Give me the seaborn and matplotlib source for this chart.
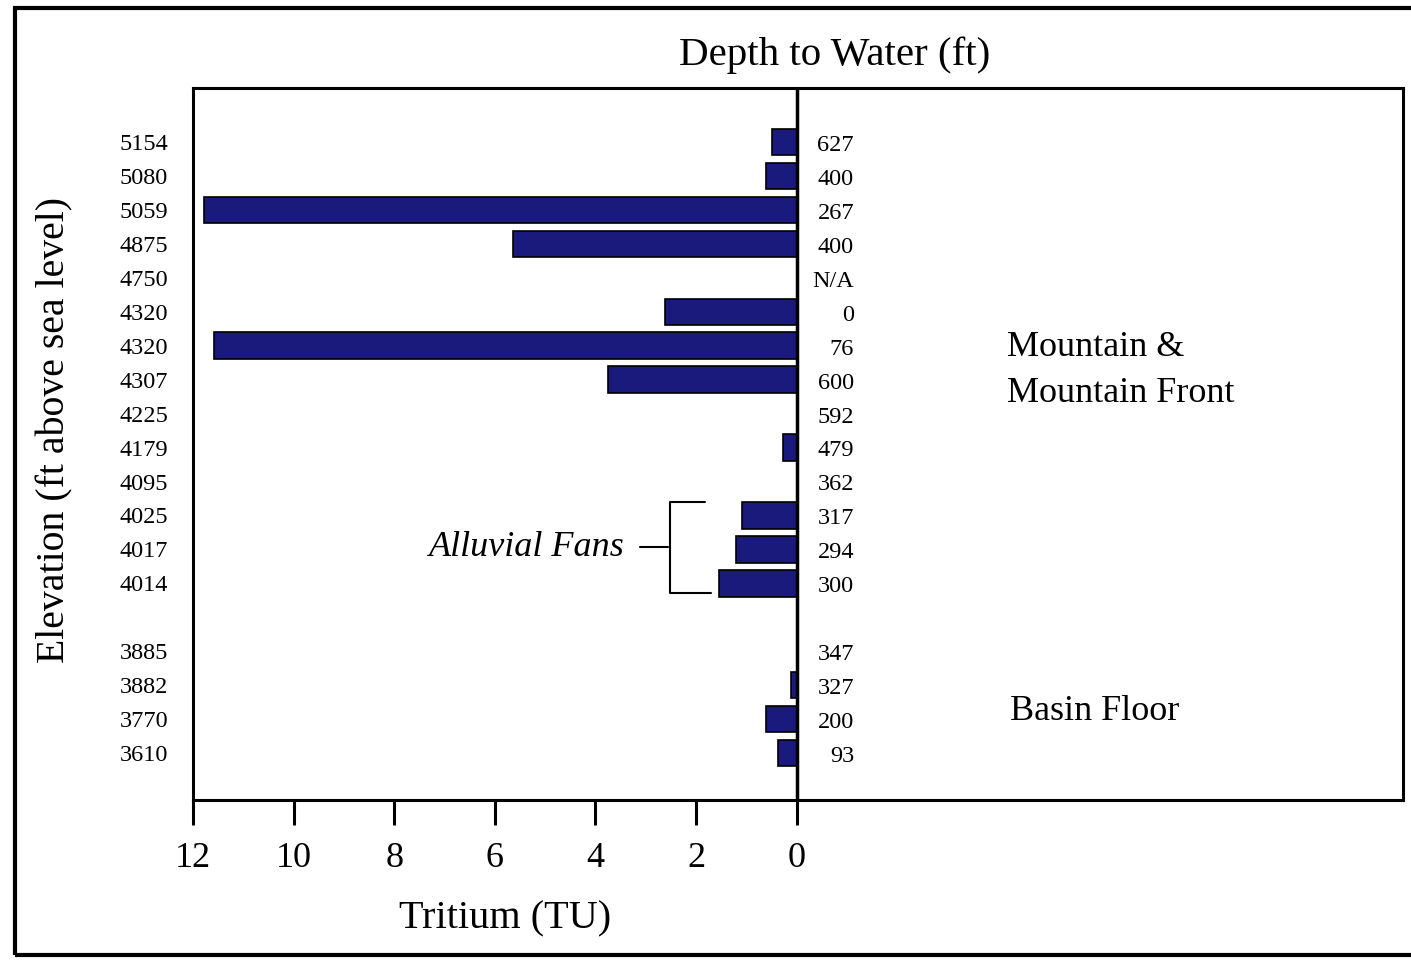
import matplotlib
matplotlib.use("Agg")
import matplotlib.pyplot as plt
import numpy as np
import pandas as pd
import seaborn as sns
from matplotlib.patches import Rectangle

# wells, top to bottom
elevation = ["5154", "5080", "5059", "4875", "4750", "4320", "4320", "4307", "4225",
             "4179", "4095", "4025", "4017", "4014", "3885", "3882", "3770", "3610"]
depth_to_water = ["627", "400", "267", "400", "N/A", "0", "76", "600", "592",
                  "479", "362", "317", "294", "300", "347", "327", "200", "93"]
tritium = [0.5, 0.62, 11.78, 5.63, 0.0, 2.62, 11.59, 3.76, 0.0,
           0.28, 0.0, 1.09, 1.21, 1.55, 0.0, 0.11, 0.62, 0.38]
x_ticks = [12, 10, 8, 6, 4, 2, 0]

# blank row between mountain-front and basin-floor groups
gap_after = 13
slot = [i if i <= gap_after else i + 1 for i in range(len(elevation))]

df = pd.DataFrame({"slot": slot, "tritium": tritium})

sns.set_theme(style="white")
plt.rcParams["font.family"] = ["Liberation Serif", "DejaVu Serif"]
plt.rcParams["text.color"] = "black"
plt.rcParams["xtick.color"] = "black"
plt.rcParams["ytick.color"] = "black"

fig = plt.figure(figsize=(14.11, 9.6), dpi=100)
ax = fig.add_axes([193 / 1411, 1 - 800 / 960, (1403 - 193) / 1411, (800 - 88) / 960])

sns.barplot(data=df, x="tritium", y="slot", orient="h", native_scale=True,
            color="#1a1a7c", saturation=1, edgecolor="black", linewidth=1.2,
            width=0.78, ax=ax)

ax.set_xlim(12, -12.05)
ax.set_ylim(19.38, -1.59)
ax.axvline(0, color="black", lw=2.5, zorder=5)

for s in ax.spines.values():
    s.set_color("black")
    s.set_linewidth(2.2)

ax.set_xticks(x_ticks)
ax.set_xticklabels([str(t) for t in x_ticks], fontsize=26)
ax.tick_params(axis="x", direction="out", length=18, width=2.2, pad=12, bottom=True)
ax.set_yticks(slot)
ax.set_yticklabels(elevation, fontsize=17.5)
ax.tick_params(axis="y", length=0, pad=18)
ax.set_xlabel("")
ax.set_ylabel("")

for s, d in zip(slot, depth_to_water):
    ax.text(-1.14, s + 0.1, d, ha="right", va="center", fontsize=17.5)

ax.text(-4.17, 6.04, "Mountain &", ha="left", va="center", fontsize=26)
ax.text(-4.17, 7.42, "Mountain Front", ha="left", va="center", fontsize=26)
ax.text(-4.23, 16.76, "Basin Floor", ha="left", va="center", fontsize=26)

# alluvial fans bracket
ax.text(3.42, 11.93, "Alluvial Fans", ha="right", va="center", fontsize=26, style="italic")
ax.plot([3.12, 2.56], [11.93, 11.93], color="black", lw=1.5)
ax.plot([1.83, 2.52, 2.52, 1.7], [10.6, 10.6, 13.29, 13.29], color="black", lw=1.5)

fig.text(835 / 1411, 1 - 55 / 960, "Depth to Water (ft)", ha="center", va="center", fontsize=29.5)
fig.text(505 / 1411, 1 - 919 / 960, "Tritium (TU)", ha="center", va="center", fontsize=29)
fig.text(55 / 1411, 1 - 430 / 960, "Elevation (ft above sea level)", ha="center", va="center",
         rotation=90, fontsize=28.6)

fig.patches.append(Rectangle((15 / 1411, 1 - 955 / 960), 1.2, (955 - 8) / 960,
                             transform=fig.transFigure, fill=False, edgecolor="black", lw=3))

fig.savefig("out.png", dpi=100)
